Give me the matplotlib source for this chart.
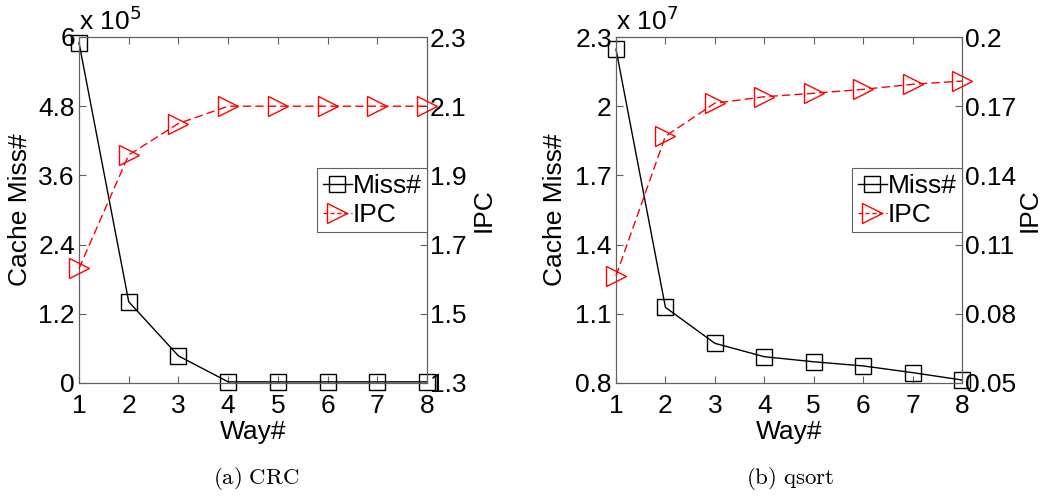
import matplotlib
matplotlib.use("Agg")
import matplotlib.pyplot as plt
from matplotlib.lines import Line2D

plt.rcParams['font.family'] = ['Liberation Sans', 'DejaVu Sans']
plt.rcParams['mathtext.fontset'] = 'cm'

ways = [1, 2, 3, 4, 5, 6, 7, 8]

# CRC benchmark
crc_miss = [5.90e5, 1.41e5, 0.47e5, 0.02e5, 0.02e5, 0.02e5, 0.02e5, 0.02e5]
crc_ipc = [1.631, 1.959, 2.050, 2.100, 2.100, 2.100, 2.100, 2.100]
crc_miss_ticks = [0, 1.2, 2.4, 3.6, 4.8, 6]
crc_ipc_ticks = [1.3, 1.5, 1.7, 1.9, 2.1, 2.3]

# qsort benchmark
qs_miss = [2.247e7, 1.128e7, 0.972e7, 0.914e7, 0.892e7, 0.874e7, 0.845e7, 0.813e7]
qs_ipc = [0.0965, 0.157, 0.1713, 0.1741, 0.1756, 0.1773, 0.1795, 0.1809]
qs_miss_ticks = [0.8, 1.1, 1.4, 1.7, 2, 2.3]
qs_ipc_ticks = [0.05, 0.08, 0.11, 0.14, 0.17, 0.2]

W, H = 1056, 499
fig = plt.figure(figsize=(W / 100, H / 100), dpi=100)

FS = 19
SPINE = '#606060'


def panel(rect, miss, ipc, exp, mticks, iticks, mlab, ilab, caption, cap_x):
    l, t, r, b = rect
    ax = fig.add_axes([l / W, 1 - b / H, (r - l) / W, (b - t) / H])
    ax2 = ax.twinx()
    scale = 10.0 ** exp
    ax.plot(ways, [m / scale for m in miss], color='black', lw=1.0,
            marker='s', ms=11.5, mfc='none', mec='black', mew=1.0,
            clip_on=False, zorder=3)
    ax2.plot(ways, ipc, color='red', lw=1.0, ls=(0, (6, 3)),
             marker='>', ms=14, mfc='none', mec='red', mew=1.0,
             clip_on=False, zorder=3)
    ax.set_xlim(1, 8)
    ax.set_ylim(mticks[0], mticks[-1])
    ax2.set_ylim(iticks[0], iticks[-1])
    ax.set_xticks(ways)
    ax.set_yticks(mticks)
    ax2.set_yticks(iticks)
    ax.set_yticklabels([f'{v:g}' for v in mticks])
    ax2.set_yticklabels([f'{v:g}' for v in iticks])
    ax.tick_params(axis='both', direction='in', labelsize=FS, length=5,
                   width=0.8, color=SPINE, top=True)
    ax.tick_params(axis='y', right=False, pad=3)
    ax.tick_params(axis='x', pad=8)
    ax2.tick_params(axis='y', direction='in', labelsize=FS, length=5,
                    width=0.8, color=SPINE, pad=2)
    for a in (ax, ax2):
        for s in a.spines.values():
            s.set_color(SPINE)
            s.set_linewidth(0.8)
    ax.set_ylabel('Cache Miss#', fontsize=FS)
    ax.yaxis.set_label_coords(mlab, 0.5)
    ax2.set_ylabel('IPC', fontsize=FS)
    ax2.yaxis.set_label_coords(ilab, 0.5)
    ax.set_xlabel('Way#', fontsize=FS)
    ax.xaxis.set_label_coords(0.5, -0.106)
    ax.text(0.0, 1.005, r'x 10$^{%d}$' % exp, transform=ax.transAxes,
            fontsize=FS, ha='left', va='bottom',
            math_fontfamily='dejavusans')
    handles = [
        Line2D([], [], color='black', lw=1.0, marker='s', ms=11.5,
               mfc='none', mec='black'),
        Line2D([], [], color='red', lw=1.0, ls=(0, (3, 2)), marker='>',
               ms=14, mfc='none', mec='red'),
    ]
    leg = ax2.legend(handles, ['Miss#', 'IPC'], loc='upper right',
                     bbox_to_anchor=(1.0, 0.62), fontsize=FS,
                     frameon=True, fancybox=False, borderaxespad=0,
                     handlelength=1.1, handletextpad=0.05,
                     borderpad=0.2, labelspacing=0.2, framealpha=1)
    leg.get_frame().set_edgecolor(SPINE)
    leg.get_frame().set_linewidth(0.8)
    fig.text(cap_x / W, 1 - 478 / H, caption, fontsize=16.5,
             ha='center', va='center')
    return ax


panel((79, 37, 427, 383), crc_miss, crc_ipc, 5, crc_miss_ticks,
      crc_ipc_ticks, -0.135, 1.129, r'$\mathrm{(a)\ CRC}$', 256)
panel((616, 37, 962, 383), qs_miss, qs_ipc, 7, qs_miss_ticks,
      qs_ipc_ticks, -0.142, 1.162, r'$\mathrm{(b)\ qsort}$', 790)

fig.savefig('out.png', dpi=100)
